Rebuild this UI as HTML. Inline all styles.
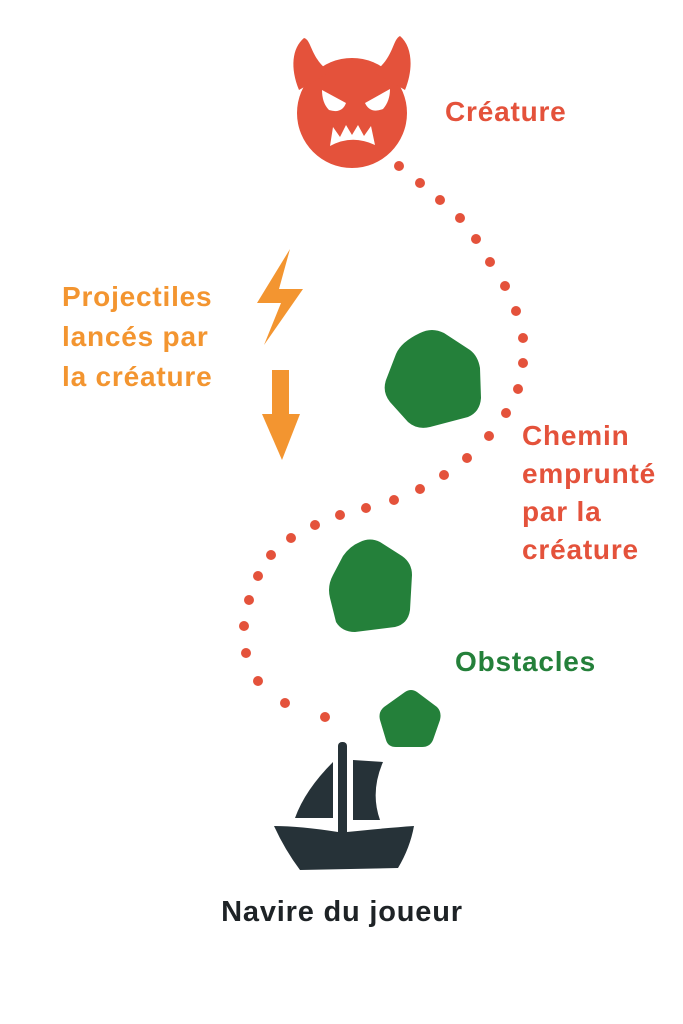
<!DOCTYPE html>
<html><head><meta charset="utf-8"><style>
html,body{margin:0;padding:0;background:#fff;}
svg{display:block}
text{font-family:"Liberation Sans",sans-serif;font-weight:bold;letter-spacing:0.8px;}
</style></head><body>
<svg width="683" height="1024" viewBox="0 0 683 1024" xmlns="http://www.w3.org/2000/svg">
<!-- devil -->
<g fill="#e4523b">
<circle cx="352" cy="113" r="55"/>
<path d="M299,90 C290,68 292,48 304,38 C312,40 310,58 330,72 Z"/>
<path d="M405,90 C414,68 412,46 400,36 C392,40 394,58 374,72 Z"/>
<circle cx="399" cy="166" r="5"/>
</g>
<g fill="#fff">
<path d="M322,90 L346,103 Q342,114 329,110 Q322,103 322,90 Z"/>
<path d="M390,89 L365,103 Q370,114 383,109 Q390,101 390,89 Z"/>
<path d="M330,146 L333,127 L340,137 L346,125 L352,135 L358,125 L364,136 L371,126 L375,145 Q352,134 330,146 Z"/>
</g>
<text x="445" y="121" font-size="28" fill="#e4523b">Créature</text>
<!-- dots -->
<g fill="#e4523b">
<circle cx="420" cy="183" r="5"/><circle cx="440" cy="200" r="5"/><circle cx="460" cy="218" r="5"/>
<circle cx="476" cy="239" r="5"/><circle cx="490" cy="262" r="5"/><circle cx="505" cy="286" r="5"/>
<circle cx="516" cy="311" r="5"/><circle cx="523" cy="338" r="5"/><circle cx="523" cy="363" r="5"/>
<circle cx="518" cy="389" r="5"/><circle cx="506" cy="413" r="5"/><circle cx="489" cy="436" r="5"/>
<circle cx="467" cy="458" r="5"/><circle cx="444" cy="475" r="5"/><circle cx="420" cy="489" r="5"/>
<circle cx="394" cy="500" r="5"/><circle cx="366" cy="508" r="5"/><circle cx="340" cy="515" r="5"/>
<circle cx="315" cy="525" r="5"/><circle cx="291" cy="538" r="5"/><circle cx="271" cy="555" r="5"/>
<circle cx="258" cy="576" r="5"/><circle cx="249" cy="600" r="5"/><circle cx="244" cy="626" r="5"/>
<circle cx="246" cy="653" r="5"/><circle cx="258" cy="681" r="5"/><circle cx="285" cy="703" r="5"/>
<circle cx="325" cy="717" r="5"/>
</g>
<text font-size="28" fill="#e4523b"><tspan x="522" y="445">Chemin</tspan><tspan x="522" y="483">emprunté</tspan><tspan x="522" y="521">par la</tspan><tspan x="522" y="559">créature</tspan></text>
<!-- projectiles -->
<g fill="#f39530">
<path d="M290,249 L257,303 L281,303 L264,345 L303,289 L279,289 Z"/>
<rect x="272" y="370" width="17" height="47"/>
<path d="M262,414 L300,414 L282,460 Z"/>
</g>
<text font-size="28" fill="#f39530"><tspan x="62" y="306">Projectiles</tspan><tspan x="62" y="346">lancés par</tspan><tspan x="62" y="386">la créature</tspan></text>
<!-- obstacles -->
<g fill="#24803a">
<path d="M420,333 Q432,327 444,333 L470,350 Q478,356 480,368 L481,398 Q480,412 468,417 L430,427 Q417,430 408,422 L390,402 Q382,392 386,380 L396,354 Q401,342 420,333 Z"/>
<path d="M360,542 Q370,537 380,542 L402,556 Q412,563 412,575 L410,610 Q408,624 395,627 L355,632 Q342,632 336,622 L330,598 Q327,586 333,575 L343,556 Q350,546 360,542 Z"/>
<path d="M405,692 Q411,688 417,692 L437,707 Q442,712 440,720 L433,740 Q430,747 422,747 L396,747 Q388,747 386,740 L380,720 Q378,712 384,707 Z"/>
</g>
<text x="455" y="671" font-size="28" fill="#24803a">Obstacles</text>
<!-- boat -->
<g fill="#263238">
<rect x="338" y="742" width="9" height="100" rx="4"/>
<path d="M333,762 Q305,790 295,818 L333,818 Z"/>
<path d="M353,760 L383,762 Q370,792 380,820 L353,820 Z"/>
<path d="M274,826 Q300,826 338,832 L347,832 Q385,828 414,826 Q410,848 398,868 L300,870 Q285,850 274,826 Z"/>
</g>
<text x="342" y="921" font-size="29" fill="#1e2326" text-anchor="middle">Navire du joueur</text>
</svg>
</body></html>
